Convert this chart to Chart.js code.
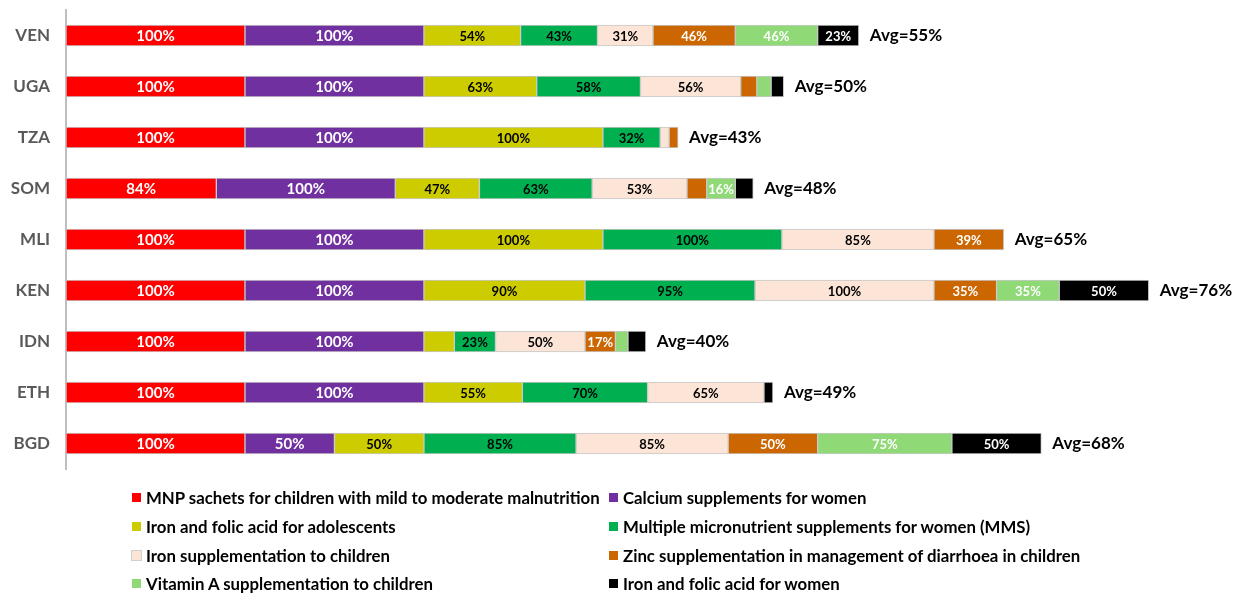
<!DOCTYPE html>
<html>
<head>
<meta charset="utf-8">
<script src="https://cdn.jsdelivr.net/npm/chart.js@4.4.1/dist/chart.umd.min.js"></script>
<style>
  html, body { margin: 0; padding: 0; background: #fff; }
  #wrap { position: relative; width: 1247px; height: 594px; }
  #legend { position: absolute; left: 0; top: 0; width: 1247px; height: 594px; pointer-events: none;
            font-family: Lato, sans-serif; font-weight: bold; font-size: 16.8px; color: #000; }
  #legend .item { position: absolute; display: flex; align-items: center; white-space: nowrap; }
  #legend .box { width: 9px; height: 9px; margin-right: 5px; }
</style>
</head>
<body>
<div id="wrap">
  <canvas id="chart" width="1247" height="594"></canvas>
  <div id="legend"></div>
</div>
<script>
const countries = ['VEN', 'UGA', 'TZA', 'SOM', 'MLI', 'KEN', 'IDN', 'ETH', 'BGD']

const mnpSachets   = [100, 100, 100, 84, 100, 100, 100, 100, 100]
const calciumWomen = [100, 100, 100, 100, 100, 100, 100, 100, 50]
const ifaAdolescents = [54, 63, 100, 47, 100, 90, 17, 55, 50]
const mmsWomen     = [43, 58, 32, 63, 100, 95, 23, 70, 85]
const ironChildren = [31, 56, 5, 53, 85, 100, 50, 65, 85]
const zincDiarrhoea = [46, 9, 5, 11, 39, 35, 17, 0, 50]
const vitaminA     = [46, 8, 0, 16, 0, 35, 7, 0, 75]
const ifaWomen     = [23, 7, 0, 10, 0, 50, 10, 5, 50]

const averages = [55, 50, 43, 48, 65, 76, 40, 49, 68]

// segments too narrow to carry a label (country, series index)
const unlabeled = [['IDN', 2]]

const series = [
  { label: 'MNP sachets for children with mild to moderate malnutrition', data: mnpSachets, color: '#FF0000', text: '#ffffff', size: 15 },
  { label: 'Calcium supplements for women', data: calciumWomen, color: '#7030A0', text: '#ffffff', size: 15 },
  { label: 'Iron and folic acid for adolescents', data: ifaAdolescents, color: '#CCCC00', text: '#000000', size: 13 },
  { label: 'Multiple micronutrient supplements for women (MMS)', data: mmsWomen, color: '#00B050', text: '#000000', size: 13 },
  { label: 'Iron supplementation to children', data: ironChildren, color: '#FCE4D6', text: '#000000', size: 13 },
  { label: 'Zinc supplementation in management of diarrhoea in children', data: zincDiarrhoea, color: '#CC6600', text: '#ffffff', size: 13 },
  { label: 'Vitamin A supplementation to children', data: vitaminA, color: '#8FD977', text: '#ffffff', size: 13 },
  { label: 'Iron and folic acid for women', data: ifaWomen, color: '#000000', text: '#ffffff', size: 13 },
]

const segmentLabels = {
  id: 'segmentLabels',
  afterDatasetsDraw(chart) {
    const ctx = chart.ctx
    const xScale = chart.scales.x
    ctx.save()
    ctx.textAlign = 'center'
    ctx.textBaseline = 'middle'
    chart.data.datasets.forEach((ds, di) => {
      const meta = chart.getDatasetMeta(di)
      meta.data.forEach((bar, i) => {
        const v = ds.data[i]
        if (v < 16) return
        if (unlabeled.some(u => u[0] === countries[i] && u[1] === di)) return
        ctx.fillStyle = series[di].text
        ctx.font = `bold ${series[di].size}px Lato`
        ctx.fillText(v + '%', (bar.x + bar.base) / 2, bar.y + 1)
      })
    })
    // average at the end of each stacked bar
    ctx.textAlign = 'left'
    ctx.fillStyle = '#000'
    ctx.font = 'bold 17px Lato'
    countries.forEach((c, i) => {
      const total = series.reduce((s, d) => s + d.data[i], 0)
      const y = chart.getDatasetMeta(0).data[i].y
      ctx.fillText('Avg=' + averages[i] + '%', xScale.getPixelForValue(total) + 11, y)
    })
    ctx.restore()
  }
}

new Chart(document.getElementById('chart'), {
  type: 'bar',
  data: {
    labels: countries,
    datasets: series.map(s => ({
      label: s.label,
      data: s.data,
      backgroundColor: s.color,
      borderColor: '#C9C9C9',
      borderWidth: 1,
      borderSkipped: false,
      barThickness: 21,
    }))
  },
  options: {
    indexAxis: 'y',
    responsive: false,
    animation: false,
    layout: { padding: { left: 0, right: 7, top: 10, bottom: 125 } },
    scales: {
      x: { stacked: true, display: false, min: 0, max: 656 },
      y: {
        stacked: true,
        grid: { display: false, drawTicks: false },
        border: { display: true, color: '#BFBFBF', width: 2 },
        ticks: { color: '#595959', font: { family: 'Lato', size: 17, weight: 'bold' }, padding: 16 },
        afterFit: scale => {
          scale.width = 66
          scale.paddingTop = 0
          scale.paddingBottom = 0
        }
      }
    },
    plugins: { legend: { display: false }, tooltip: { enabled: false } }
  },
  plugins: [segmentLabels]
})

// two-column legend underneath the plot
const legend = document.getElementById('legend')
const cols = [132, 609]
const rows = [497, 526, 555, 583]
series.forEach((s, i) => {
  const item = document.createElement('div')
  item.className = 'item'
  item.style.left = cols[i % 2] + 'px'
  item.style.top = (rows[Math.floor(i / 2)] - 10) + 'px'
  item.style.height = '20px'
  const box = document.createElement('span')
  box.className = 'box'
  box.style.background = s.color
  if (s.color === '#FCE4D6') box.style.outline = '1px solid #D0D0D0'
  const txt = document.createElement('span')
  txt.textContent = s.label
  item.appendChild(box)
  item.appendChild(txt)
  legend.appendChild(item)
})
</script>
</body>
</html>
